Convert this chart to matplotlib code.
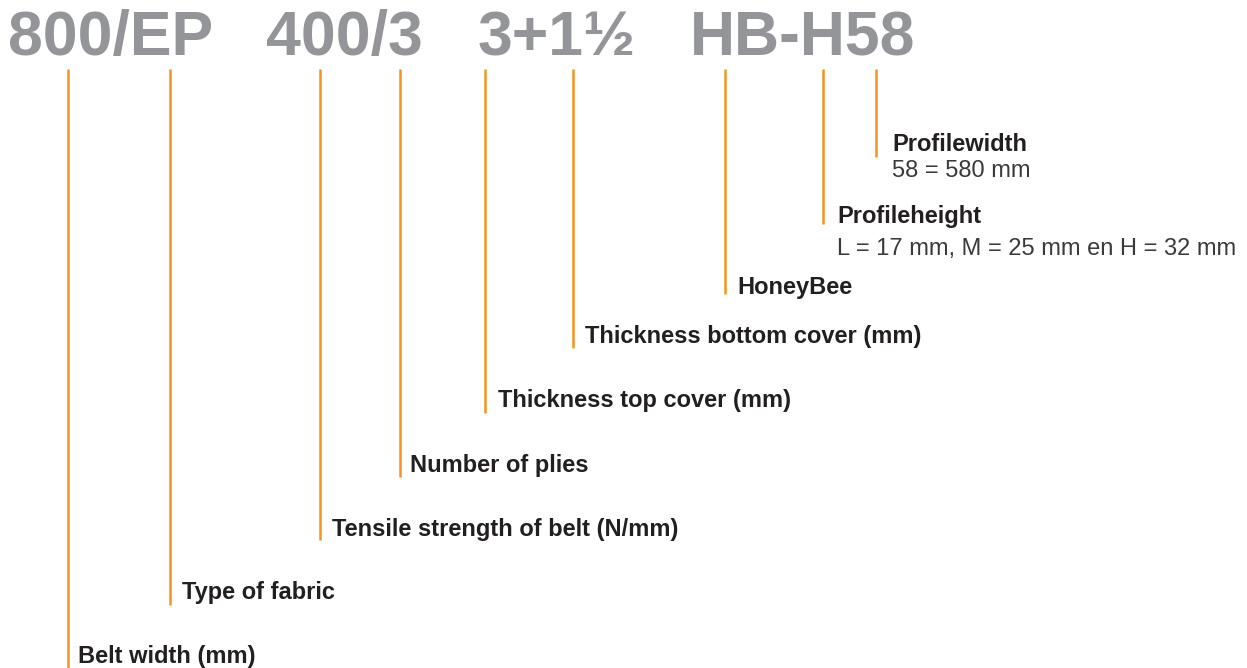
import matplotlib
matplotlib.use("Agg")
import matplotlib.pyplot as plt

# ---- content ----
header_words = ["800/EP", "400/3", "3+1½", "HB-H58"]
header_x = [8, 266, 478, 690]
header_baseline = 55

marker_x = [68, 170, 320, 400, 485, 573, 725, 823, 876]
marker_top = 69
marker_bottom = [668, 605, 540, 477, 413, 348, 294, 224, 157]

labels = ["Belt width (mm)", "Type of fabric", "Tensile strength of belt (N/mm)",
          "Number of plies", "Thickness top cover (mm)", "Thickness bottom cover (mm)",
          "HoneyBee", "Profileheight", "Profilewidth"]
label_x = [78, 182, 332, 410, 498, 585, 737, 837, 892]
label_baseline = [663, 599, 536, 472, 407, 343, 294, 223, 151]

sublabels = ["", "", "", "", "", "", "", "L = 17 mm, M = 25 mm en H = 32 mm", "58 = 580 mm"]
sub_baseline = [None] * 7 + [255, 177]

ORANGE = "#F7941D"
GREY = "#939598"
DARK = "#231F20"
SUBC = "#3a3a3a"

W, H = 1247, 668
fig = plt.figure(figsize=(W / 100, H / 100), dpi=100)
ax = fig.add_axes([0, 0, 1, 1])
ax.set_xlim(0, W)
ax.set_ylim(H, 0)
ax.axis("off")

fam = ["Liberation Sans", "DejaVu Sans"]

for w, x in zip(header_words, header_x):
    ax.text(x, header_baseline, w, fontsize=45, fontweight="bold", color=GREY,
            family=fam, ha="left", va="baseline")

for x, yb in zip(marker_x, marker_bottom):
    ax.plot([x, x], [marker_top, yb], color=ORANGE, lw=1.8, solid_capstyle="butt")

for t, x, yb in zip(labels, label_x, label_baseline):
    ax.text(x, yb, t, fontsize=17, fontweight="bold", color=DARK,
            family=fam, ha="left", va="baseline")

for t, x, yb in zip(sublabels, label_x, sub_baseline):
    if t:
        ax.text(x, yb, t, fontsize=17, color=SUBC,
                family=fam, ha="left", va="baseline")

fig.savefig("out.png", dpi=100, facecolor="white")
